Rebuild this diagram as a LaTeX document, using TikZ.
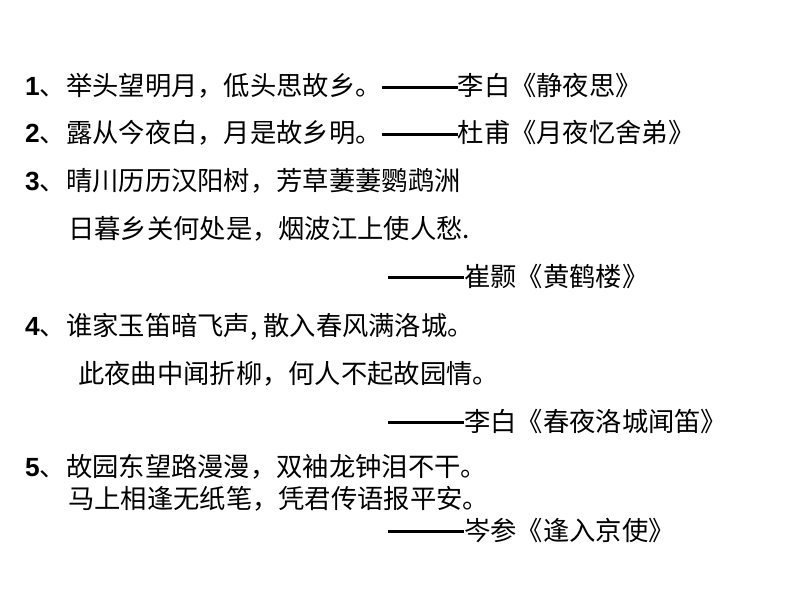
\documentclass[tikz,border=0pt]{standalone}
\usepackage{fontspec}
\setmainfont{Noto Sans CJK SC}
\newfontfamily\numfont{Liberation Sans}
\newcommand{\nr}[1]{{\numfont\bfseries #1}}
\newcommand{\dash}{\rule[0.28em]{76pt}{2.2pt}}
\begin{document}
\begin{tikzpicture}[x=1pt,y=-1pt,
  line/.style={anchor=base west,inner sep=0pt,font=\fontsize{26.3}{27}\selectfont}]
  \useasboundingbox (0,0) rectangle (794,596);

  \node[line] (l1) at (25, 96) {\nr{1}、举头望明月，低头思故乡。\dash 李白《静夜思》};
  \node[line] (l2) at (25,143) {\nr{2}、露从今夜白，月是故乡明。\dash 杜甫《月夜忆舍弟》};
  \node[line] (l3) at (25,190) {\nr{3}、晴川历历汉阳树，芳草萋萋鹦鹉洲};
  \node[line] (l4) at (68,238) {日暮乡关何处是，烟波江上使人愁.};
  \node[line] (l5) at (388,286) {\dash 崔颢《黄鹤楼》};
  \node[line] (l6) at (25,335) {\nr{4}、谁家玉笛暗飞声, 散入春风满洛城。};
  \node[line] (l7) at (78,383) {此夜曲中闻折柳，何人不起故园情。};
  \node[line] (l8) at (388,431) {\dash 李白《春夜洛城闻笛》};
  \node[line] (l9) at (25,476) {\nr{5}、故园东望路漫漫，双袖龙钟泪不干。};
  \node[line] (l10) at (68,508) {马上相逢无纸笔，凭君传语报平安。};
  \node[line] (l11) at (388,540) {\dash 岑参《逢入京使》};
\end{tikzpicture}
\end{document}
